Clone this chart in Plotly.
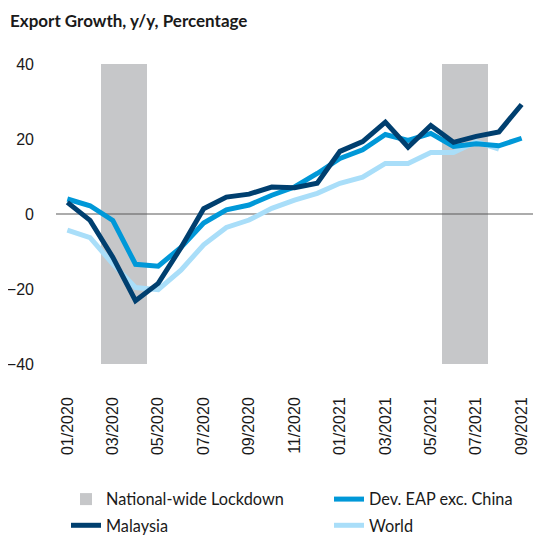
import plotly.graph_objects as go

months = ["01/2020", "02/2020", "03/2020", "04/2020", "05/2020", "06/2020", "07/2020",
          "08/2020", "09/2020", "10/2020", "11/2020", "12/2020", "01/2021", "02/2021",
          "03/2021", "04/2021", "05/2021", "06/2021", "07/2021", "08/2021", "09/2021"]

malaysia = [3.1, -1.7, -11.5, -23.1, -18.5, -9.0, 1.4, 4.5, 5.3, 7.2, 7.0, 8.2, 16.7,
            19.3, 24.5, 17.8, 23.6, 19.1, 20.7, 21.9, 29.2]
dev_eap = [4.0, 2.2, -1.7, -13.4, -13.9, -8.9, -2.4, 1.1, 2.4, 5.0, 7.2, 10.8, 14.8,
           17.1, 21.2, 19.6, 21.5, 18.0, 18.7, 18.2, 20.2]
world = [-4.3, -6.3, -13.3, -19.6, -20.2, -15.0, -8.2, -3.6, -1.6, 1.5, 3.7, 5.5, 8.2,
         9.8, 13.5, 13.5, 16.4, 16.4, 19.3, 17.3, None]

lockdown_months = ["03/2020", "04/2020", "06/2021", "07/2021"]
y_min, y_max = -40, 40
y_ticks = [-40, -20, 0, 20, 40]
x_tick_labels = months[::2]

idx = {m: i for i, m in enumerate(months)}
xs = list(range(len(months)))

# the page body adds an 8px offset; layout numbers below are pre-compensated
OFF = 8
W, H = 555, 537
PW, PH = 477, 300
ML, MT = 56 - OFF, 64 - OFF
MR, MB = W - ML - PW, H - MT - PH

fig = go.Figure()

fig.add_trace(go.Bar(
    x=[idx[m] for m in lockdown_months],
    y=[y_max - y_min] * len(lockdown_months),
    base=[y_min] * len(lockdown_months),
    width=1.0,
    marker=dict(color="#c6c7c9", line=dict(width=0)),
    name="National-wide Lockdown",
    legend="legend", legendgroup="a", legendrank=1,
    hoverinfo="skip",
))

fig.add_trace(go.Scatter(
    x=[-0.5, len(months) - 0.5], y=[0, 0], mode="lines",
    line=dict(color="#5a5a5a", width=1.2), showlegend=False, hoverinfo="skip",
))

fig.add_trace(go.Scatter(x=xs, y=world, mode="lines", name="World",
                         legend="legend2", legendgroup="d", legendrank=2,
                         line=dict(color="#a9def9", width=5)))
fig.add_trace(go.Scatter(x=xs, y=dev_eap, mode="lines", name="Dev. EAP exc. China",
                         legend="legend2", legendgroup="c", legendrank=1,
                         line=dict(color="#0098d8", width=5)))
fig.add_trace(go.Scatter(x=xs, y=malaysia, mode="lines", name="Malaysia",
                         legend="legend", legendgroup="b", legendrank=2,
                         line=dict(color="#003f6f", width=5)))

leg_font = dict(family="Lato", size=16.3, color="#1a1a1a")
leg_top_px = 482 - OFF
leg_y = -(leg_top_px - (MT + PH)) / PH

fig.update_layout(
    width=W, height=H,
    margin=dict(l=ML, r=MR, t=MT, b=MB, autoexpand=False),
    plot_bgcolor="white", paper_bgcolor="white",
    bargap=0,
    title=dict(text="<b>Export Growth, y/y, Percentage</b>", x=(10 - OFF) / W, xref="container",
               xanchor="left", y=1 - (21 - OFF) / H, yref="container", yanchor="middle",
               font=dict(family="Lato", size=17, color="#1a1a1a")),
    xaxis=dict(range=[-0.5, len(months) - 0.5], showgrid=False, zeroline=False,
               tickmode="array", tickvals=[idx[m] for m in x_tick_labels],
               ticktext=x_tick_labels, tickangle=-90, ticks="",
               ticklabelstandoff=29, automargin=False,
               tickfont=dict(family="Liberation Sans", size=16, color="#1a1a1a")),
    yaxis=dict(range=[y_min, y_max], showgrid=False, zeroline=False,
               tickmode="array", tickvals=y_ticks, ticks="",
               ticklabelstandoff=21, automargin=False,
               tickfont=dict(family="Liberation Sans", size=16, color="#1a1a1a")),
    legend=dict(orientation="v", x=(66 - OFF - ML) / PW, xanchor="left",
                y=leg_y, yanchor="top", tracegroupgap=2,
                traceorder="grouped", font=leg_font, bgcolor="rgba(0,0,0,0)"),
    legend2=dict(orientation="v", x=(329 - OFF - ML) / PW, xanchor="left",
                 y=leg_y, yanchor="top", tracegroupgap=2,
                 traceorder="grouped", font=leg_font, bgcolor="rgba(0,0,0,0)"),
)

fig.write_html("out.html")
